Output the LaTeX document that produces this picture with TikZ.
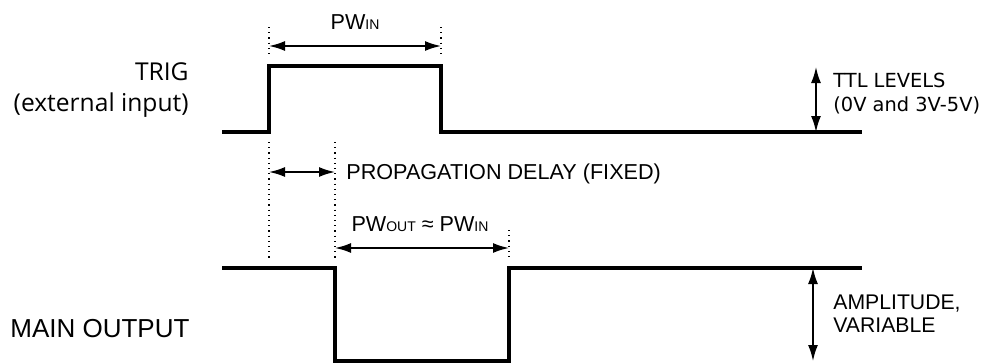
\documentclass[tikz,border=0pt]{standalone}
\usepackage{fontspec}
\setmainfont{Liberation Sans}
\newfontfamily\verdfont{DejaVu Sans}
\newfontfamily\segfont{Open Sans}
\usetikzlibrary{arrows.meta,calc}
\tikzset{
  wave/.style={line width=1.6pt, line join=miter},
  dim/.style={{Latex[length=8pt,width=5pt]}-{Latex[length=8pt,width=5pt]}, line width=0.9pt},
  guide/.style={dotted, line width=0.6pt},
  lbl/.style={font=\fontsize{10.8}{12}\selectfont, inner sep=0pt, anchor=base west},
  side/.style={font=\fontsize{10.6}{11.5}\selectfont, inner sep=0pt, anchor=base west},
}
\newcommand{\pwsub}[1]{{\fontsize{7}{7}\selectfont #1}}

\begin{document}
\begin{tikzpicture}[x=0.5pt, y=-0.5pt]
\useasboundingbox (0,0) rectangle (982,364);

%% ── time marks and levels ────────────────────────────────────────────────
\coordinate (tA) at (222,0);  % left end
\coordinate (tB) at (862,0);  % right end
\coordinate (tr) at (269,0);  % trig rise
\coordinate (tf) at (441,0);  % trig fall
\coordinate (ol) at (335,0);  % output fall
\coordinate (oh) at (509,0);  % output rise
\coordinate (hiT) at (0,66);
\coordinate (loT) at (0,132);
\coordinate (hiO) at (0,268);
\coordinate (loO) at (0,361);

%% ── TRIG waveform ────────────────────────────────────────────────────────
\draw[wave] (tA |- loT) -- (tr |- loT) -- (tr |- hiT) -- (tf |- hiT)
            -- (tf |- loT) -- (tB |- loT);

%% ── MAIN OUTPUT waveform ─────────────────────────────────────────────────
\draw[wave] (tA |- hiO) -- (ol |- hiO) -- (ol |- loO) -- (oh |- loO)
            -- (oh |- hiO) -- (tB |- hiO);

%% ── guides ───────────────────────────────────────────────────────────────
\coordinate (gA1) at (tr |- 0,27);  \coordinate (gA2) at (tr |- 0,56);
\coordinate (gB1) at (tf |- 0,27);  \coordinate (gB2) at (tf |- 0,56);
\coordinate (gC1) at (tr |- 0,142); \coordinate (gC2) at (tr |- 0,260);
\coordinate (gD1) at (ol |- 0,142); \coordinate (gD2) at (ol |- 0,260);
\coordinate (gE1) at (oh |- 0,230); \coordinate (gE2) at (oh |- 0,258);
\foreach \g in {A,B,C,D,E}
  \draw[guide] (g\g1) -- (g\g2);

%% ── dimensions ───────────────────────────────────────────────────────────
\draw[dim] (tr |- 0,46) -- (tf |- 0,46);
\node[lbl, anchor=base] (pwin) at (355,29) {PW\pwsub{IN}};

\draw[dim] (tr |- 0,172) -- (ol |- 0,172);
\node[lbl] (prop) at (346,179) {PROPAGATION DELAY (FIXED)};

\draw[dim] (ol |- 0,248) -- (oh |- 0,248);
\node[lbl, anchor=base] (pwout) at (420,231) {PW\pwsub{OUT} ≈ PW\pwsub{IN}};

\draw[dim] (816,67) -- (816,132);
\node[font=\verdfont\fontsize{9.7}{12}\selectfont, inner sep=0pt, anchor=base west,
      align=left] (ttl) at (833,112) {TTL LEVELS\\(0V and 3V-5V)};

\draw[dim] (813,268) -- (813,361);
\node[side, align=left] (amp) at (833,332) {AMPLITUDE,\\VARIABLE};

%% ── signal names ─────────────────────────────────────────────────────────
\node[font=\segfont\fontsize{12.3}{15.5}\selectfont, inner sep=0pt, anchor=base east,
      align=right] (trig) at (189,112) {TRIG\\(external input)};
\node[font=\fontsize{13}{15}\selectfont, inner sep=0pt, anchor=base west]
  (mainout) at (10,337) {MAIN OUTPUT};

\end{tikzpicture}
\end{document}
